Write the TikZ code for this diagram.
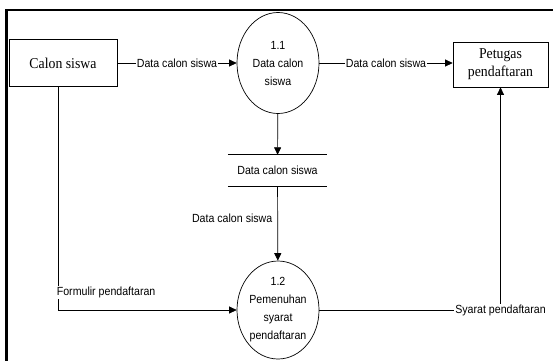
\documentclass[tikz,border=0pt]{standalone}
\usepackage{fontspec}
\setmainfont{Liberation Serif}[FakeStretch=0.92]
\newfontfamily\arialf{Liberation Sans}[FakeStretch=0.9]
\usetikzlibrary{arrows.meta,shapes.geometric}

\tikzset{
  entity/.style={draw, line width=0.7pt, inner sep=0pt, align=center,
    font=\fontsize{15}{18}\selectfont},
  process/.style={draw, ellipse, line width=0.7pt, inner sep=0pt, align=center,
    minimum width=82pt, font=\fontsize{11.8}{18}\selectfont\arialf},
  flow/.style={line width=0.7pt, -{Triangle[length=7.5pt,width=7pt]}},
  lbl/.style={fill=white, inner sep=1pt, font=\fontsize{11.8}{13}\selectfont\arialf},
}

\begin{document}
\begin{tikzpicture}[x=1pt,y=-1pt]
\useasboundingbox (0,0) rectangle (553,360);

% frame
\draw[line width=2.5pt] (6.5,362) -- (6.5,10) -- (555,10);

% external entities
\node[entity, minimum width=108pt, minimum height=47pt] (calon) at (63,63) {Calon siswa};
\node[entity, minimum width=95pt, minimum height=45pt] (petugas) at (500.5,64.5) {Petugas\\pendaftaran};

% processes
\node[process, minimum height=101pt] (p11) at (278,63) {1.1\\Data calon\\siswa};
\node[process, minimum height=98pt] (p12) at (278,310) {1.2\\Pemenuhan\\syarat\\pendaftaran};

% data store
\node[minimum width=99pt, minimum height=31pt, inner sep=0pt, font=\fontsize{11.8}{13}\selectfont\arialf]
  (store) at (277.5,170.5) {Data calon siswa};
\draw[line width=0.7pt] (store.north west) -- (store.north east);
\draw[line width=0.7pt] (store.south west) -- (store.south east);

% data flows
\draw[flow] (calon.east) -- node[lbl] {Data calon siswa} (p11.west);
\draw[flow] (p11.east) -- node[lbl] {Data calon siswa} (p11.east -| petugas.west);
\draw[flow] (p11) -- (store);
\draw[flow] (store) -- node[lbl, pos=0.43, anchor=east, xshift=-4pt] {Data calon siswa} (p12);
\coordinate (fstart) at ([xshift=-5pt]calon.south);
\draw[flow] (fstart) |- node[lbl, pos=0.46, anchor=west, xshift=-2.5pt] {Formulir pendaftaran} (p12.west);
\draw[flow] (p12.east) -| node[lbl, pos=0.5] {Syarat pendaftaran} (petugas.south);
\end{tikzpicture}
\end{document}
